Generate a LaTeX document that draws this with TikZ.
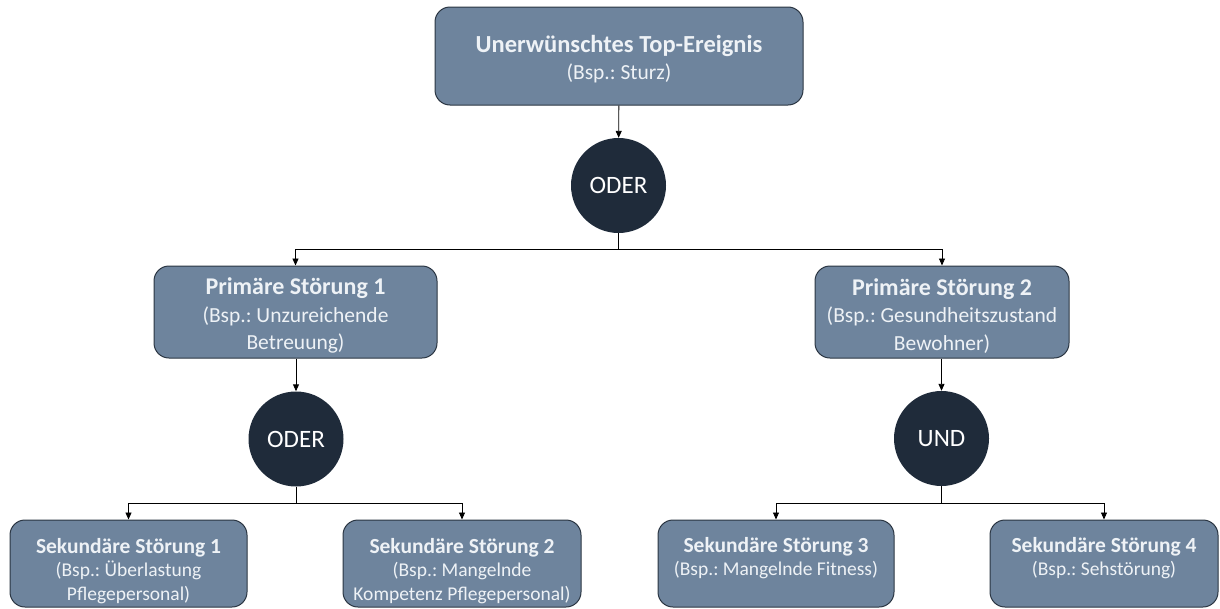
\documentclass[tikz,border=0pt]{standalone}
\usepackage{fontspec}
\setmainfont{Carlito}
\usetikzlibrary{arrows.meta}
\frenchspacing
\definecolor{boxfill}{HTML}{6E849D}
\definecolor{boxline}{HTML}{2A3542}
\definecolor{boxtext}{HTML}{EEF2F6}
\definecolor{gatefill}{HTML}{1F2B3A}
% headline of an event box, set in bold at the given size
\newcommand\evhead[2]{\textbf{\fontsize{#1}{#1}\selectfont #2}}
\begin{document}
\begin{tikzpicture}[x=1pt,y=-1pt,
  event/.style={draw=boxline, line width=1pt, fill=boxfill, rounded corners=15pt,
    text=boxtext, align=center, inner sep=0pt},
  topevent/.style={event, minimum width=368pt, minimum height=98pt,
    font=\fontsize{21.5}{27}\selectfont},
  primevent/.style={event, minimum height=92pt,
    font=\fontsize{21.5}{27.5}\selectfont},
  secevent/.style={event, minimum height=87pt,
    font=\fontsize{19.5}{23.5}\selectfont},
  gate/.style={circle, fill=gatefill, text=white, minimum size=95pt, inner sep=0pt,
    font=\fontsize{25}{30}\selectfont},
  link/.style={line width=0.9pt, -{Triangle[length=7pt,width=6pt]}},
  wire/.style={line width=0.9pt}
]
\useasboundingbox (0,0) rectangle (1220,608);

% top event and its gate
\node[topevent] (top) at (619,56) {\rule{0pt}{24pt}\evhead{24.5}{Unerwünschtes Top-Ereignis}\\(Bsp.: Sturz)};
\node[gate] (g1) at (618.5,185.5) {ODER};

% primary events
\node[primevent, minimum width=283pt] (p1) at (295.5,312) {\rule{0pt}{24pt}\evhead{24}{Primäre Störung 1}\\(Bsp.: Unzureichende\\Betreuung)};
\node[primevent, minimum width=254pt] (p2) at (942,312) {\rule{0pt}{24pt}\evhead{24}{Primäre Störung 2}\\(Bsp.: Gesundheitszustand\\Bewohner)};

% gates below the primary events
\node[gate] (g2) at (296,439) {ODER};
\node[gate] (g3) at (941.5,438.5) {UND};

% secondary events, text sits in the upper part of the box
\node[secevent, minimum width=237pt] (s1) at (128.5,563.5) {\rule{0pt}{30pt}\evhead{21.5}{Sekundäre Störung 1}\\(Bsp.: Überlastung\\Pflegepersonal)};
\node[secevent, minimum width=238pt] (s2) at (462,563.5) {\rule{0pt}{30pt}\evhead{21.5}{Sekundäre Störung 2}\\(Bsp.: Mangelnde\\Kompetenz Pflegepersonal)};
\node[secevent, minimum width=236pt] (s3) at (776,563.5) {\rule{0pt}{32pt}\evhead{21.5}{Sekundäre Störung 3}\\(Bsp.: Mangelnde Fitness)\\\strut};
\node[secevent, minimum width=228pt] (s4) at (1104,563.5) {\rule{0pt}{32pt}\evhead{21.5}{Sekundäre Störung 4}\\(Bsp.: Sehstörung)\\\strut};

% connectors
\draw[link] (top) -- (g1);
\draw[wire] (g1.south) -- ++(0,16) coordinate (j1);
\draw[link] (j1) -| (p1.north);
\draw[link] (j1) -| (p2.north);

\draw[link] (p1.south -| g2) -- (g2);
\draw[link] (p2.south -| g3) -- (g3);

\draw[wire] (g2.south) -- ++(0,17) coordinate (j2);
\draw[link] (j2) -| (s1.north);
\draw[link] (j2) -| (s2.north);

\draw[wire] (g3.south) -- ++(0,17) coordinate (j3);
\draw[link] (j3) -| (s3.north);
\draw[link] (j3) -| (s4.north);
\end{tikzpicture}
\end{document}
